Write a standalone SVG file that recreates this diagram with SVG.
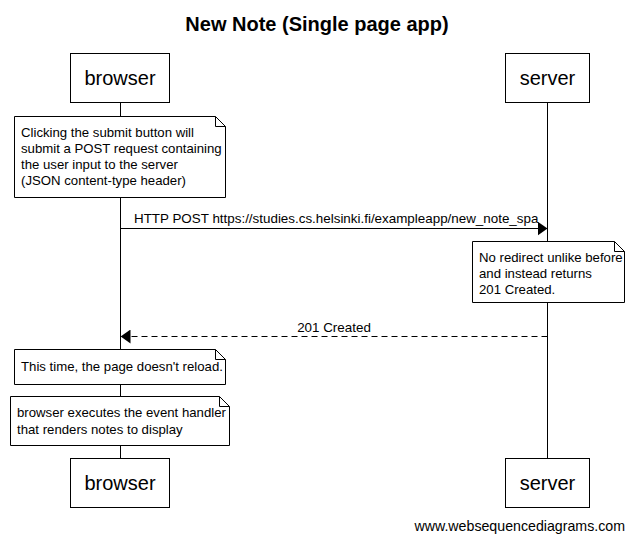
<svg xmlns="http://www.w3.org/2000/svg" width="634" height="541" viewBox="0 0 634 541">
  <style>
    text { font-family: "Liberation Sans", Arial, sans-serif; fill: #000; }
    .title { font-size: 20px; font-weight: bold; text-anchor: middle; }
    .actor rect { fill: #fff; stroke: #000; stroke-width: 1; }
    .actor text { font-size: 20px; text-anchor: middle; }
    .life { stroke: #000; stroke-width: 1; }
    .note path { fill: #fff; stroke: #000; stroke-width: 1; }
    .note text { font-size: 13.2px; }
    .msg text { font-size: 13.4px; }
    .msg line { stroke: #000; stroke-width: 1; }
    .dashed { stroke-dasharray: 6 4; }
    .foot { font-size: 14.2px; text-anchor: end; }
  </style>
  <defs>
    <marker id="head" viewBox="0 0 10 14" refX="10" refY="7" markerWidth="10" markerHeight="14" markerUnits="userSpaceOnUse" orient="auto">
      <path d="M0,0 L10,7 L0,14 Z" fill="#000"/>
    </marker>
  </defs>
  <rect width="634" height="541" fill="#fff"/>

  <text class="title" x="317" y="31">New Note (Single page app)</text>

  <!-- lifelines -->
  <g id="lifelines">
    <line class="life" x1="120.5" y1="103" x2="120.5" y2="458"/>
    <line class="life" x1="547.5" y1="103" x2="547.5" y2="458"/>
  </g>

  <!-- participants -->
  <g id="browser-top" class="actor">
    <rect x="70.5" y="53.5" width="99" height="49"/>
    <text x="120" y="85">browser</text>
  </g>
  <g id="server-top" class="actor">
    <rect x="505.5" y="53.5" width="84" height="49"/>
    <text x="547.5" y="85">server</text>
  </g>
  <g id="browser-bottom" class="actor">
    <rect x="70.5" y="458.5" width="99" height="49"/>
    <text x="120" y="490">browser</text>
  </g>
  <g id="server-bottom" class="actor">
    <rect x="505.5" y="458.5" width="84" height="49"/>
    <text x="547.5" y="490">server</text>
  </g>

  <!-- notes -->
  <g id="note-submit" class="note">
    <path d="M14.5,116.5 H215.5 L225.5,126.5 V197.5 H14.5 Z M215.5,116.5 V126.5 H225.5"/>
    <text x="21" y="137">Clicking the submit button will</text>
    <text x="21" y="153">submit a POST request containing</text>
    <text x="21" y="169">the user input to the server</text>
    <text x="21" y="185">(JSON content-type header)</text>
  </g>
  <g id="note-created" class="note">
    <path d="M472.5,241.5 H614.5 L624.5,251.5 V302.5 H472.5 Z M614.5,241.5 V251.5 H624.5"/>
    <text x="479" y="262">No redirect unlike before</text>
    <text x="479" y="278">and instead returns</text>
    <text x="479" y="294">201 Created.</text>
  </g>
  <g id="note-reload" class="note">
    <path d="M14.5,349.5 H215.5 L225.5,359.5 V384.5 H14.5 Z M215.5,349.5 V359.5 H225.5"/>
    <text x="21" y="371">This time, the page doesn't reload.</text>
  </g>
  <g id="note-handler" class="note">
    <path d="M10.5,396.5 H219.5 L229.5,406.5 V445.5 H10.5 Z M219.5,396.5 V406.5 H229.5"/>
    <text x="17" y="417">browser executes the event handler</text>
    <text x="17" y="434">that renders notes to display</text>
  </g>

  <!-- messages -->
  <g id="connectors" class="msg">
    <line x1="120.5" y1="228.5" x2="547.5" y2="228.5" marker-end="url(#head)"/>
    <text x="134" y="223">HTTP POST https://studies.cs.helsinki.fi/exampleapp/new_note_spa</text>
    <line class="dashed" x1="547.5" y1="336.5" x2="120.5" y2="336.5" marker-end="url(#head)"/>
    <text x="334" y="332" text-anchor="middle">201 Created</text>
  </g>

  <text class="foot" x="625" y="531">www.websequencediagrams.com</text>
</svg>
